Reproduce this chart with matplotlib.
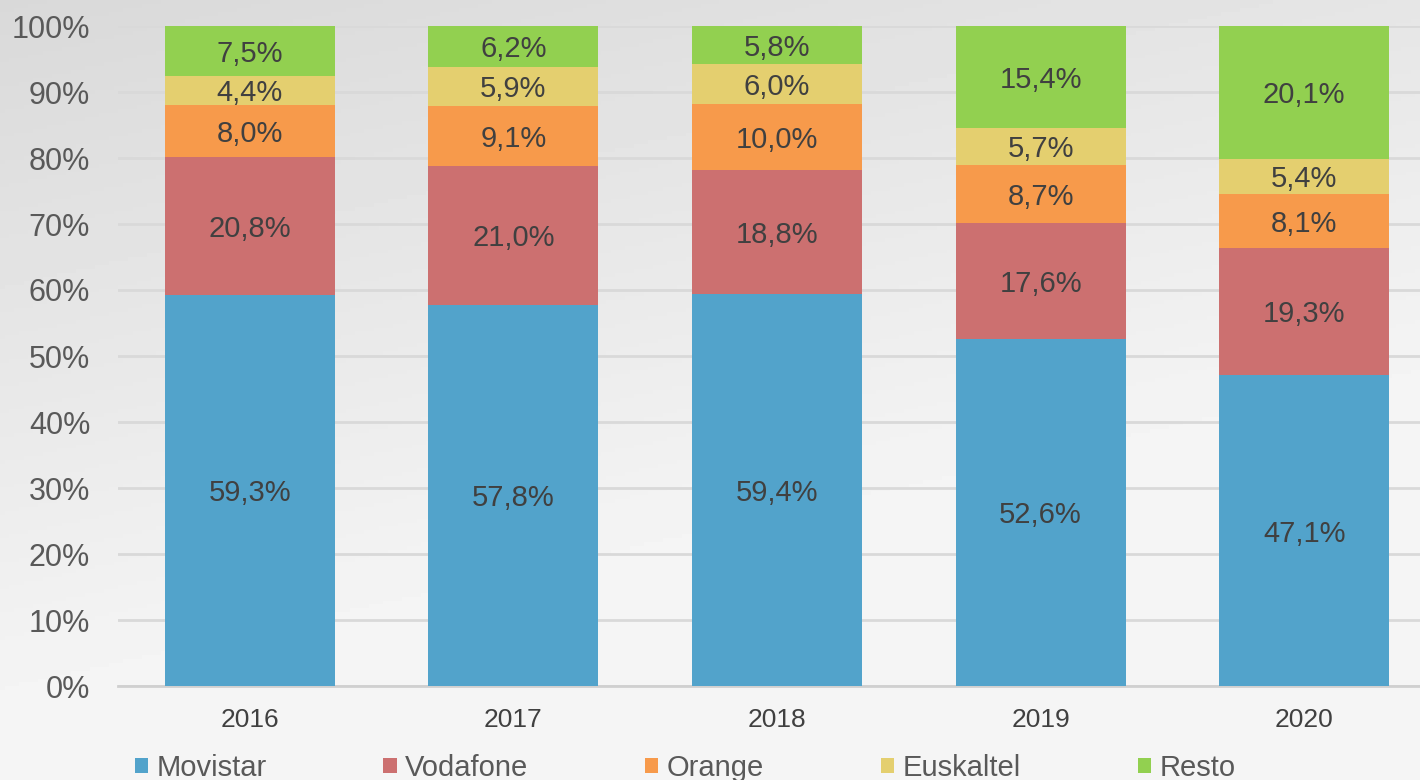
import numpy as np
import matplotlib.pyplot as plt

years = ['2016', '2017', '2018', '2019', '2020']
movistar = [59.3, 57.8, 59.4, 52.6, 47.1]
vodafone = [20.8, 21.0, 18.8, 17.6, 19.3]
orange = [8.0, 9.1, 10.0, 8.7, 8.1]
euskaltel = [4.4, 5.9, 6.0, 5.7, 5.4]
resto = [7.5, 6.2, 5.8, 15.4, 20.1]

series = [('Movistar', movistar, '#52a3cb'),
          ('Vodafone', vodafone, '#cc7070'),
          ('Orange', orange, '#f79a4b'),
          ('Euskaltel', euskaltel, '#e4cf6f'),
          ('Resto', resto, '#92d050')]

plt.rcParams['font.family'] = ['Liberation Sans', 'DejaVu Sans']

fig = plt.figure(figsize=(14.2, 7.8), dpi=100)

# soft grey background, darker towards the top left
bg = fig.add_axes([0, 0, 1, 1], zorder=-10)
yy, xx = np.mgrid[0:1:200j, 0:1:300j]
shade = 0.85 + 0.11 * np.clip(xx * 0.45 + yy * 1.1, 0, 1)
bg.imshow(shade, cmap='gray', vmin=0, vmax=1, aspect='auto',
          extent=[0, 1, 0, 1], origin='upper')
bg.axis('off')

ax = fig.add_axes([118 / 1420, 94 / 780, 1318 / 1420, 660 / 780])
ax.patch.set_alpha(0)

x = np.arange(len(years))
bottom = np.zeros(len(years))
for name, vals, color in series:
    vals = np.array(vals)
    ax.bar(x, vals, 0.645, bottom=bottom, color=color, label=name, zorder=3)
    for xi, b, v in zip(x, bottom, vals):
        ax.text(xi, b + v / 2, f'{v:.1f}%'.replace('.', ','),
                ha='center', va='center_baseline', fontsize=21,
                color='#404040', zorder=4)
    bottom += vals

ax.set_xlim(-0.5, 4.5)
ax.set_ylim(0, 100)
ax.set_yticks(np.arange(0, 101, 10))
ax.set_yticklabels([f'{t}%' for t in range(0, 101, 10)])
ax.set_xticks(x)
ax.set_xticklabels(years)
ax.tick_params(axis='y', length=0, labelsize=22, labelcolor='#595959', pad=20)
ax.tick_params(axis='x', length=0, labelsize=19, labelcolor='#404040', pad=16)
ax.grid(axis='y', color='#d9d9d9', linewidth=2, zorder=0)
for s in ['top', 'right', 'left']:
    ax.spines[s].set_visible(False)
ax.spines['bottom'].set_color('#d0d0d0')
ax.spines['bottom'].set_linewidth(2)

leg = fig.legend(loc='center left', bbox_to_anchor=(123 / 1420, 12 / 780), ncol=5,
                 frameon=False, fontsize=21, handlelength=0.45, handleheight=0.45,
                 handletextpad=0.3, columnspacing=4.0, borderaxespad=0)
for t in leg.get_texts():
    t.set_color('#595959')

fig.savefig('out.png', dpi=100)
